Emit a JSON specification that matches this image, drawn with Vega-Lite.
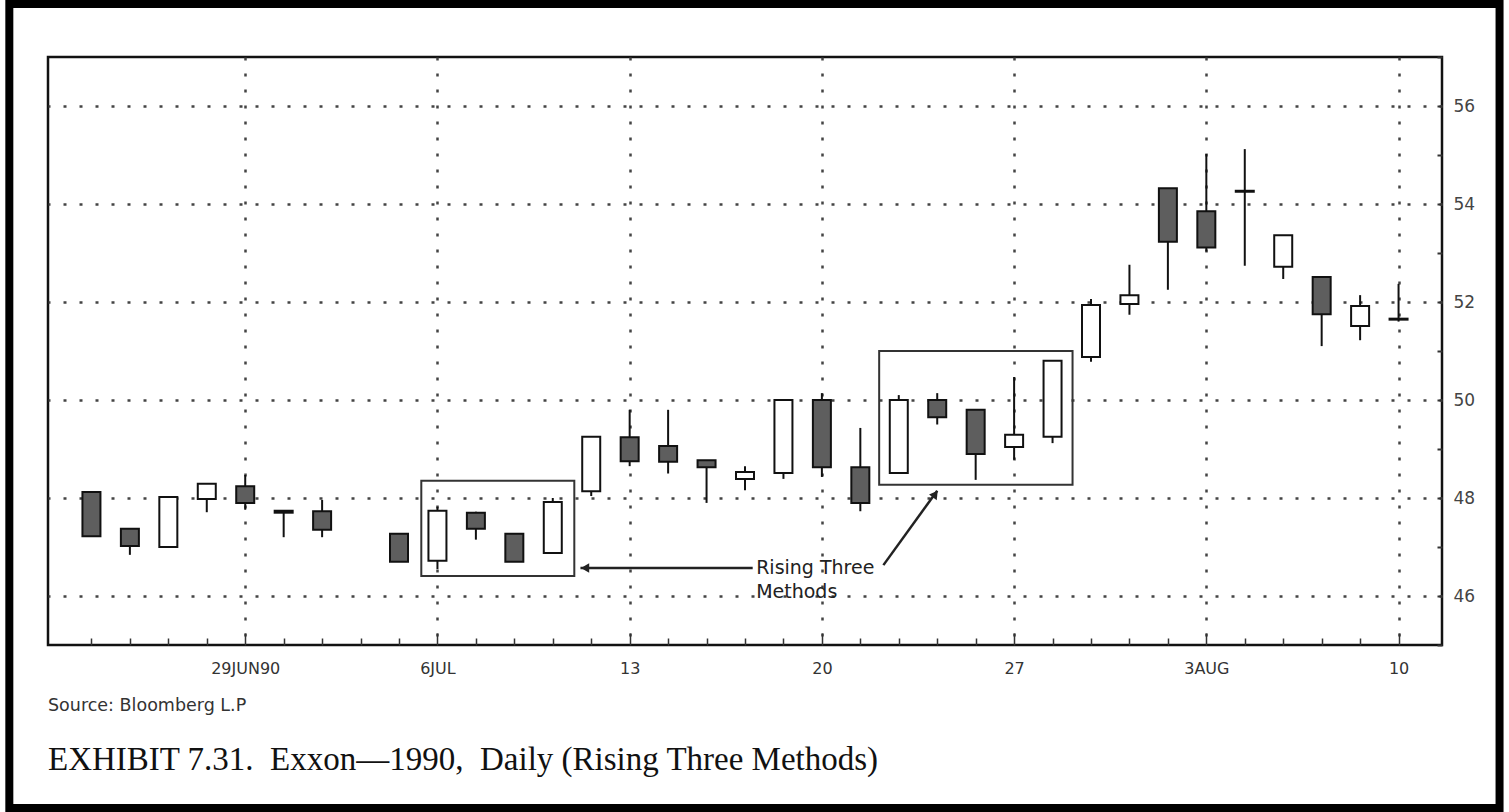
{
  "$schema": "https://vega.github.io/schema/vega-lite/v6.json",
  "width": 1394,
  "height": 588,
  "padding": {"left": 48, "top": 57, "right": 67, "bottom": 167},
  "autosize": {"type": "none"},
  "background": "#ffffff",
  "config": {
    "view": {"stroke": "#111111", "strokeWidth": 2.5},
    "axis": {"domain": false}
  },
  "title": {
    "text": "Source: Bloomberg L.P",
    "subtitle": "EXHIBIT 7.31.\u00a0\u00a0Exxon\u20141990,\u00a0\u00a0Daily (Rising Three Methods)",
    "orient": "bottom",
    "anchor": "start",
    "frame": "group",
    "offset": -115,
    "dx": 0,
    "font": "DejaVu Sans",
    "fontSize": 17.5,
    "fontWeight": "normal",
    "color": "#333333",
    "subtitleFont": "Liberation Serif",
    "subtitleFontSize": 33,
    "subtitleColor": "#111111",
    "subtitlePadding": 29
  },
  "datasets": {
    "candles": [
      {"date": "1990-06-25", "i": 0, "open": 48.12, "high": 48.12, "low": 47.22, "close": 47.22},
      {"date": "1990-06-26", "i": 1, "open": 47.37, "high": 47.37, "low": 46.84, "close": 47.02},
      {"date": "1990-06-27", "i": 2, "open": 47.0, "high": 48.02, "low": 47.0, "close": 48.02},
      {"date": "1990-06-28", "i": 3, "open": 47.98, "high": 48.29, "low": 47.71, "close": 48.29},
      {"date": "1990-06-29", "i": 4, "open": 48.24, "high": 48.47, "low": 47.76, "close": 47.9},
      {"date": "1990-07-02", "i": 5, "open": 47.74, "high": 47.74, "low": 47.2, "close": 47.7},
      {"date": "1990-07-03", "i": 6, "open": 47.73, "high": 47.96, "low": 47.2, "close": 47.35},
      {"date": "1990-07-05", "i": 8, "open": 47.27, "high": 47.27, "low": 46.7, "close": 46.7},
      {"date": "1990-07-06", "i": 9, "open": 46.72, "high": 47.82, "low": 46.55, "close": 47.74},
      {"date": "1990-07-09", "i": 10, "open": 47.7, "high": 47.72, "low": 47.15, "close": 47.37},
      {"date": "1990-07-10", "i": 11, "open": 47.27, "high": 47.27, "low": 46.7, "close": 46.7},
      {"date": "1990-07-11", "i": 12, "open": 46.88, "high": 48.0, "low": 46.88, "close": 47.92},
      {"date": "1990-07-12", "i": 13, "open": 48.14, "high": 49.25, "low": 48.04, "close": 49.25},
      {"date": "1990-07-13", "i": 14, "open": 49.24, "high": 49.8, "low": 48.65, "close": 48.75},
      {"date": "1990-07-16", "i": 15, "open": 49.06, "high": 49.8, "low": 48.5, "close": 48.74},
      {"date": "1990-07-17", "i": 16, "open": 48.77, "high": 48.77, "low": 47.9, "close": 48.63},
      {"date": "1990-07-18", "i": 17, "open": 48.39, "high": 48.65, "low": 48.16, "close": 48.53},
      {"date": "1990-07-19", "i": 18, "open": 48.51, "high": 50.0, "low": 48.39, "close": 50.0},
      {"date": "1990-07-20", "i": 19, "open": 50.0, "high": 50.14, "low": 48.43, "close": 48.63},
      {"date": "1990-07-23", "i": 20, "open": 48.63, "high": 49.43, "low": 47.73, "close": 47.9},
      {"date": "1990-07-24", "i": 21, "open": 48.51, "high": 50.1, "low": 48.51, "close": 50.0},
      {"date": "1990-07-25", "i": 22, "open": 50.0, "high": 50.14, "low": 49.5, "close": 49.65},
      {"date": "1990-07-26", "i": 23, "open": 49.8, "high": 49.8, "low": 48.37, "close": 48.9},
      {"date": "1990-07-27", "i": 24, "open": 49.04, "high": 50.47, "low": 48.78, "close": 49.29},
      {"date": "1990-07-30", "i": 25, "open": 49.25, "high": 50.8, "low": 49.12, "close": 50.8},
      {"date": "1990-07-31", "i": 26, "open": 50.88, "high": 52.06, "low": 50.78, "close": 51.94},
      {"date": "1990-08-01", "i": 27, "open": 51.96, "high": 52.76, "low": 51.74, "close": 52.14},
      {"date": "1990-08-02", "i": 28, "open": 54.32, "high": 54.32, "low": 52.25, "close": 53.23},
      {"date": "1990-08-03", "i": 29, "open": 53.85, "high": 55.02, "low": 53.03, "close": 53.11},
      {"date": "1990-08-06", "i": 30, "open": 54.27, "high": 55.12, "low": 52.74, "close": 54.25},
      {"date": "1990-08-07", "i": 31, "open": 52.72, "high": 53.36, "low": 52.47, "close": 53.36},
      {"date": "1990-08-08", "i": 32, "open": 52.51, "high": 52.51, "low": 51.1, "close": 51.75},
      {"date": "1990-08-09", "i": 33, "open": 51.51, "high": 52.14, "low": 51.22, "close": 51.92},
      {"date": "1990-08-10", "i": 34, "open": 51.66, "high": 52.37, "low": 51.6, "close": 51.64}
    ],
    "boxes": [
      {"x": 8.58, "x2": 12.56, "y": 48.35, "y2": 46.41},
      {"x": 20.49, "x2": 25.52, "y": 51.0, "y2": 48.27}
    ],
    "arrows": [
      {"x": 12.72, "x2": 17.2, "y": 46.57, "y2": 46.57},
      {"x": 20.6, "x2": 22.0, "y": 46.63, "y2": 48.15}
    ],
    "heads": [
      {"name": "left", "x": 12.84, "y": 46.57},
      {"name": "up", "x": 21.95, "y": 48.08}
    ],
    "notes": [
      {"text": "Rising Three", "x": 17.29, "y": 46.57},
      {"text": "Methods", "x": 17.29, "y": 46.08}
    ],
    "border": [
      {"x": -2.136, "x2": 36.627, "y": 41.673, "y2": 58.08}
    ]
  },
  "layer": [
    {
      "data": {"name": "candles"},
      "mark": {"type": "rule", "color": "#111111", "strokeWidth": 2},
      "encoding": {
        "x": {
          "field": "i", "type": "quantitative",
          "scale": {"domain": [-1, 35], "nice": false, "zero": false},
          "axis": {
            "title": null,
            "values": [0,1,2,3,4,5,6,7,8,9,10,11,12,13,14,15,16,17,18,19,20,21,22,23,24,25,26,27,28,29,30,31,32,33,34],
            "labelExpr": "datum.value == 4 ? '29JUN90' : datum.value == 9 ? '6JUL' : datum.value == 14 ? '13' : datum.value == 19 ? '20' : datum.value == 24 ? '27' : datum.value == 29 ? '3AUG' : datum.value == 34 ? '10' : ''",
            "labelFont": "DejaVu Sans",
            "labelFontSize": 16,
            "labelColor": "#333333",
            "labelPadding": 27,
            "grid": true,
            "gridColor": "#444444",
            "gridDash": [3, 13],
            "gridWidth": 2.5,
            "gridOpacity": {"condition": {"test": "datum.value % 5 == 4", "value": 1}, "value": 0},
            "ticks": true,
            "tickColor": "#333333",
            "tickWidth": 1.5,
            "tickSize": {"condition": {"test": "datum.value % 5 == 4", "value": -12}, "value": -7}
          }
        },
        "y": {
          "field": "low", "type": "quantitative",
          "scale": {"domain": [45, 57], "nice": false, "zero": false},
          "axis": {
            "title": null,
            "orient": "right",
            "values": [45,45.5,46,46.5,47,47.5,48,48.5,49,49.5,50,50.5,51,51.5,52,52.5,53,53.5,54,54.5,55,55.5,56,56.5,57],
            "labelExpr": "(datum.value % 2 == 0 && datum.value >= 46 && datum.value <= 56) ? datum.label : ''",
            "labelFont": "DejaVu Sans",
            "labelFontSize": 17,
            "labelColor": "#444444",
            "labelPadding": 16,
            "grid": true,
            "gridColor": "#444444",
            "gridDash": [3, 13],
            "gridWidth": 2.5,
            "gridOpacity": {"condition": {"test": "datum.value % 2 == 0 && datum.value >= 46 && datum.value <= 56", "value": 1}, "value": 0},
            "ticks": true,
            "tickColor": "#333333",
            "tickWidth": 2,
            "tickSize": -5
          }
        },
        "y2": {"field": "high"}
      }
    },
    {
      "data": {"name": "candles"},
      "mark": {"type": "bar", "width": 18, "stroke": "#111111", "strokeWidth": 2},
      "encoding": {
        "x": {"field": "i", "type": "quantitative"},
        "y": {"field": "open", "type": "quantitative"},
        "y2": {"field": "close"},
        "fill": {"condition": {"test": "datum.close < datum.open", "value": "#5e5e5e"}, "value": "#ffffff"}
      }
    },
    {
      "data": {"name": "boxes"},
      "mark": {"type": "rect", "filled": false, "stroke": "#333333", "strokeWidth": 2},
      "encoding": {
        "x": {"field": "x", "type": "quantitative"},
        "x2": {"field": "x2"},
        "y": {"field": "y", "type": "quantitative"},
        "y2": {"field": "y2"}
      }
    },
    {
      "data": {"name": "arrows"},
      "mark": {"type": "rule", "color": "#222222", "strokeWidth": 2.5},
      "encoding": {
        "x": {"field": "x", "type": "quantitative"},
        "x2": {"field": "x2"},
        "y": {"field": "y", "type": "quantitative"},
        "y2": {"field": "y2"}
      }
    },
    {
      "data": {"name": "heads"},
      "transform": [{"filter": "datum.name == 'left'"}],
      "mark": {"type": "point", "shape": "triangle-left", "filled": true, "color": "#222222", "size": 90, "opacity": 1},
      "encoding": {
        "x": {"field": "x", "type": "quantitative"},
        "y": {"field": "y", "type": "quantitative"}
      }
    },
    {
      "data": {"name": "heads"},
      "transform": [{"filter": "datum.name == 'up'"}],
      "mark": {"type": "point", "shape": "triangle-up", "angle": 36, "filled": true, "color": "#222222", "size": 90, "opacity": 1},
      "encoding": {
        "x": {"field": "x", "type": "quantitative"},
        "y": {"field": "y", "type": "quantitative"}
      }
    },
    {
      "data": {"name": "notes"},
      "mark": {"type": "text", "align": "left", "baseline": "middle", "font": "DejaVu Sans", "fontSize": 19, "color": "#222222"},
      "encoding": {
        "x": {"field": "x", "type": "quantitative"},
        "y": {"field": "y", "type": "quantitative"},
        "text": {"field": "text"}
      }
    },
    {
      "data": {"name": "border"},
      "mark": {"type": "rect", "filled": false, "stroke": "#000000", "strokeWidth": 8},
      "encoding": {
        "x": {"field": "x", "type": "quantitative"},
        "x2": {"field": "x2"},
        "y": {"field": "y", "type": "quantitative"},
        "y2": {"field": "y2"}
      }
    }
  ]
}
